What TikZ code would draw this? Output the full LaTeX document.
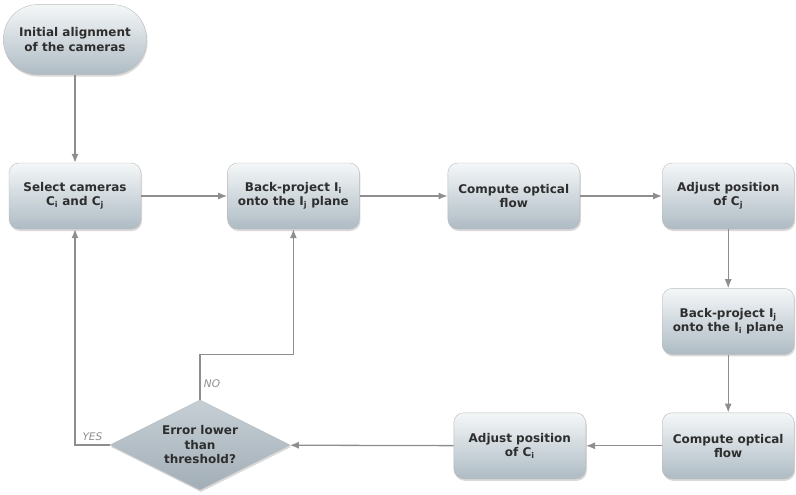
\documentclass[tikz,border=0pt]{standalone}
\usepackage{fontspec}
\setmainfont{DejaVu Sans}
\usetikzlibrary{arrows.meta, positioning, shapes.geometric, shadows}
\definecolor{boxtop}{HTML}{F4F7F8}
\definecolor{boxbottom}{HTML}{AEBBC4}
\definecolor{diatop}{HTML}{C6CFD5}
\definecolor{diabottom}{HTML}{A2AEB7}
\definecolor{lineclr}{HTML}{8E8E8E}
\definecolor{textclr}{HTML}{2E2E2E}
\newcommand{\idx}[1]{\textsubscript{#1}}
\tikzstyle{stepbox}=[rectangle, rounded corners=10pt, draw=lineclr!60, top color=boxtop, bottom color=boxbottom, minimum width=132pt, minimum height=66pt, align=center, text=textclr, font=\bfseries\fontsize{12}{14.5}\selectfont, drop shadow={opacity=0.3, shadow xshift=1pt, shadow yshift=-2pt}]
\tikzstyle{startbox}=[stepbox, rounded corners=34pt, minimum width=143pt, minimum height=70pt]
\tikzstyle{decision}=[diamond, aspect=2, draw=lineclr!60, top color=diatop, bottom color=diabottom, minimum width=180pt, minimum height=90pt, inner sep=0pt, align=center, text=textclr, font=\bfseries\fontsize{12}{14.5}\selectfont, drop shadow={opacity=0.3, shadow xshift=1pt, shadow yshift=-2pt}]
\tikzstyle{flow}=[draw=lineclr, line width=1.3pt, ->]
\tikzstyle{answer}=[text=lineclr, font=\itshape\fontsize{10.5}{12}\selectfont]

\begin{document}
\begin{tikzpicture}[x=1pt, y=1pt, >={Latex[length=9pt, width=7pt]}]
  \useasboundingbox (0,0) rectangle (796,-495);

  \node[stepbox] (sel) at (75,-196) {Select cameras\\C\idx{i} and C\idx{j}};
  \node[startbox, above=88pt of sel] (init) {Initial alignment\\of the cameras};
  \node[stepbox, right=86pt of sel] (bpi) {Back-project I\idx{i}\\onto the I\idx{j} plane};
  \node[stepbox, right=88pt of bpi] (flowa) {Compute optical\\flow};
  \node[stepbox, right=82pt of flowa] (adjj) {Adjust position\\of C\idx{j}};
  \node[stepbox, below=59pt of adjj] (bpj) {Back-project I\idx{j}\\onto the I\idx{i} plane};
  \node[stepbox, below=58pt of bpj] (flowb) {Compute optical\\flow};
  \node[stepbox, left=76pt of flowb] (adji) {Adjust position\\of C\idx{i}};
  \node[decision] (err) at (200,-445) {Error lower\\than\\threshold?};

  \draw[flow] (init) -- (sel);
  \draw[flow] (sel) -- (bpi);
  \draw[flow] (bpi) -- (flowa);
  \draw[flow] (flowa) -- (adjj);
  \draw[flow] (adjj) -- (bpj);
  \draw[flow] (bpj) -- (flowb);
  \draw[flow] (flowb) -- (adji);
  \draw[flow] (adji) -- (err);
  % answers of the test
  \draw[flow] (err.west) -| node[answer, pos=0.25, above] {YES} (sel.south);
  \draw[flow] (err.north) -- node[answer, pos=0.35, right] {NO} ++(0,45) -| (bpi.south);
\end{tikzpicture}
\end{document}
